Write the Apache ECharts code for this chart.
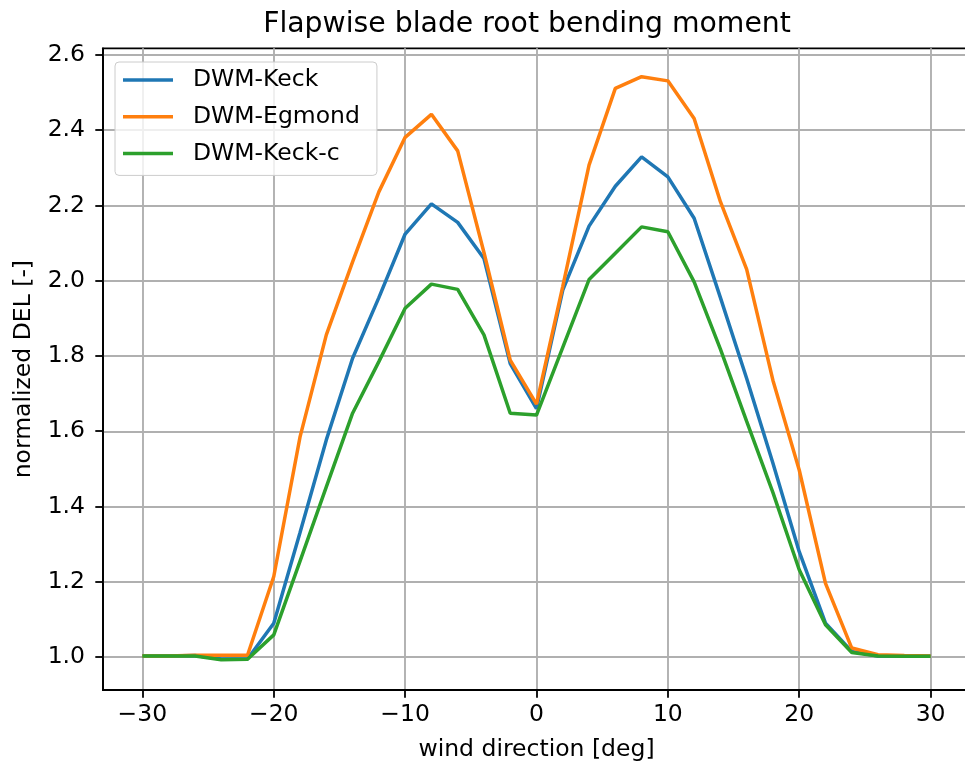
<!DOCTYPE html>
<html>
<head>
<meta charset="utf-8">
<script src="https://cdn.jsdelivr.net/npm/echarts@6/dist/echarts.min.js"></script>
<style>
html,body{margin:0;padding:0;background:#fff;overflow:hidden;}
#chart{width:965px;height:767px;}
</style>
</head>
<body>
<div id="chart"></div>
<script>
// ---- data ----
const windDir = [-30,-28,-26,-24,-22,-20,-18,-16,-14,-12,-10,-8,-6,-4,-2,0,2,4,6,8,10,12,14,16,18,20,22,24,26,28,30];
const dwmKeck = [1.003,1.003,1.004,0.995,0.995,1.090,1.331,1.577,1.794,1.955,2.124,2.204,2.155,2.059,1.780,1.660,1.975,2.145,2.251,2.329,2.276,2.166,1.955,1.740,1.515,1.280,1.090,1.015,1.003,1.003,1.002];
const dwmEgmond = [1.003,1.003,1.005,1.005,1.005,1.214,1.585,1.856,2.050,2.236,2.381,2.442,2.345,2.075,1.789,1.672,1.985,2.307,2.511,2.542,2.531,2.431,2.210,2.030,1.735,1.497,1.196,1.024,1.006,1.004,1.003];
const dwmKeckC = [1.003,1.003,1.003,0.993,0.994,1.059,1.255,1.452,1.648,1.785,1.927,1.991,1.977,1.856,1.648,1.643,1.823,2.003,2.073,2.143,2.130,1.997,1.818,1.626,1.437,1.232,1.086,1.012,1.003,1.002,1.002];
const seriesNames = ['DWM-Keck','DWM-Egmond','DWM-Keck-c'];
const xTicks = [-30,-20,-10,0,10,20,30];
const yTicks = [1.0,1.2,1.4,1.6,1.8,2.0,2.2,2.4,2.6];
const xRange = [-33, 33];
const yRange = [0.9125, 2.6175];

// ---- chart ----
const FONT = 'DejaVu Sans';
const FS = 23.5;
const pair = arr => windDir.map((x, i) => [x, arr[i]]);
const colors = ['#1f77b4', '#ff7f0e', '#2ca02c'];
const chart = echarts.init(document.getElementById('chart'), null, {renderer: 'canvas'});
const lineW = 3.5;
const gridColor = '#b0b0b0';
const fmtNum = v => (v < 0 ? '\u2212' + Math.abs(v) : String(v));

chart.setOption({
  animation: false,
  backgroundColor: '#ffffff',
  color: colors,
  title: {
    text: 'Flapwise blade root bending moment',
    left: 527, top: 11, textAlign: 'center', padding: 0,
    textStyle: {fontFamily: FONT, fontSize: 28.3, fontWeight: 'normal', color: '#000'}
  },
  legend: {
    orient: 'vertical',
    left: 115, top: 62,
    padding: [6, 17, 10, 8],
    backgroundColor: 'rgba(255,255,255,0.8)',
    borderColor: '#cccccc', borderWidth: 1, borderRadius: 4,
    icon: 'rect', itemWidth: 50, itemHeight: lineW,
    itemGap: 12.7,
    data: seriesNames,
    textStyle: {fontFamily: FONT, fontSize: FS, color: '#000', lineHeight: 24, padding: [0, 0, 0, 15]}
  },
  grid: {
    left: 103, top: 48.3, width: 867, bottom: 77,
    outerBoundsMode: 'none',
    show: true, borderColor: '#000', borderWidth: 1.8, containLabel: false
  },
  xAxis: {
    type: 'value', min: xRange[0], max: xRange[1],
    name: 'wind direction [deg]', nameLocation: 'middle', nameGap: 48,
    nameTextStyle: {fontFamily: FONT, fontSize: FS, color: '#000'},
    axisLine: {show: true, onZero: false, lineStyle: {color: '#000', width: 1.8}},
    axisTick: {show: true, inside: false, length: 7.7, customValues: xTicks, lineStyle: {color: '#000', width: 1.8}},
    axisLabel: {show: true, margin: 13, customValues: xTicks, formatter: fmtNum, fontFamily: FONT, fontSize: FS, color: '#000'},
    splitLine: {show: true, lineStyle: {color: gridColor, width: 1.9}}
  },
  yAxis: {
    type: 'value', min: yRange[0], max: yRange[1],
    name: 'normalized DEL [-]', nameLocation: 'middle', nameGap: 67,
    nameTextStyle: {fontFamily: FONT, fontSize: FS, color: '#000'},
    axisLine: {show: true, onZero: false, lineStyle: {color: '#000', width: 1.8}},
    axisTick: {show: true, inside: false, length: 7.7, customValues: yTicks, lineStyle: {color: '#000', width: 1.8}},
    axisLabel: {show: true, margin: 18, customValues: yTicks, formatter: v => v.toFixed(1), fontFamily: FONT, fontSize: FS, color: '#000'},
    splitLine: {show: true, lineStyle: {color: gridColor, width: 1.9}}
  },
  series: [
    {name: seriesNames[0], type: 'line', data: pair(dwmKeck), showSymbol: false, symbol: 'none', lineStyle: {width: lineW, color: colors[0]}, itemStyle: {color: colors[0]}},
    {name: seriesNames[1], type: 'line', data: pair(dwmEgmond), showSymbol: false, symbol: 'none', lineStyle: {width: lineW, color: colors[1]}, itemStyle: {color: colors[1]}},
    {name: seriesNames[2], type: 'line', data: pair(dwmKeckC), showSymbol: false, symbol: 'none', lineStyle: {width: lineW, color: colors[2]}, itemStyle: {color: colors[2]}}
  ]
});
</script>
</body>
</html>
